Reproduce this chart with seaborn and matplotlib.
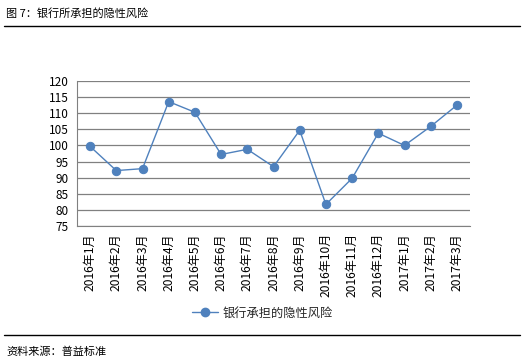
import matplotlib
matplotlib.use("Agg")
import matplotlib.pyplot as plt
import seaborn as sns
import pandas as pd
from matplotlib.lines import Line2D

months = ["2016年1月", "2016年2月", "2016年3月", "2016年4月", "2016年5月", "2016年6月",
          "2016年7月", "2016年8月", "2016年9月", "2016年10月", "2016年11月", "2016年12月",
          "2017年1月", "2017年2月", "2017年3月"]
risk = [99.7, 92.2, 92.8, 113.6, 110.3, 97.2, 98.8, 93.4, 104.7, 81.7, 89.8, 103.8, 100.0, 105.9, 112.5]
y_ticks = [75, 80, 85, 90, 95, 100, 105, 110, 115, 120]
series_name = "银行承担的隐性风险"
title = "图 7：银行所承担的隐性风险"
source = "资料来源：普益标准"

sns.set_theme(style="white")
plt.rcParams['font.family'] = ['Noto Sans CJK SC', 'DejaVu Sans']

W, H = 525, 364
fig = plt.figure(figsize=(W / 100, H / 100), dpi=100)
fig.patch.set_facecolor("white")

def px(x0, y0, x1, y1):
    return [x0 / W, 1 - y1 / H, (x1 - x0) / W, (y1 - y0) / H]

ax = fig.add_axes(px(77, 81, 470, 226))
df = pd.DataFrame({"x": range(len(months)), "v": risk})
color = "#4F81BD"
sns.lineplot(data=df, x="x", y="v", ax=ax, color=color, linewidth=1.0,
             marker="o", markersize=6, markeredgecolor=color, legend=False)

ax.set_xlim(-0.5, len(months) - 0.5)
ax.set_ylim(75, 120)
ax.set_yticks(y_ticks)
ax.set_yticklabels([str(t) for t in y_ticks], fontsize=8.5, color="black")
ax.set_xticks(range(len(months)))
ax.set_xticklabels(months, rotation=90, fontsize=8.7, color="black")
ax.set_xticks([i - 0.5 for i in range(len(months) + 1)], minor=True)
ax.tick_params(axis="x", which="major", length=0, pad=5)
ax.tick_params(axis="x", which="minor", length=4, color="#808080", width=0.8, direction="out")
ax.tick_params(axis="y", which="major", length=4, color="#808080", width=0.8, direction="out", pad=2)
ax.set_xlabel("")
ax.set_ylabel("")
ax.grid(axis="y", color="#808080", linewidth=0.9)
ax.set_axisbelow(True)
for s in ["top", "right"]:
    ax.spines[s].set_visible(False)
ax.spines["left"].set_color("#808080")
ax.spines["bottom"].set_color("#808080")
ax.spines["left"].set_linewidth(0.8)
ax.spines["bottom"].set_linewidth(0.8)

handle = Line2D([], [], color=color, linewidth=1.0, marker="o", markersize=6)
fig.legend([handle], [series_name], loc="center", bbox_to_anchor=(262 / W, 1 - 313 / H),
           frameon=False, fontsize=8.8, handlelength=2.2, handletextpad=0.3)

fig.text(6 / W, 1 - 13 / H, title, fontsize=8, va="center", ha="left", color="black")
fig.add_artist(Line2D([4 / W, 520 / W], [1 - 26 / H, 1 - 26 / H], color="black", linewidth=1.0))
fig.add_artist(Line2D([4 / W, 520 / W], [1 - 335 / H, 1 - 335 / H], color="black", linewidth=1.0))
fig.text(6 / W, 1 - 352 / H, source, fontsize=8, va="center", ha="left", color="black")

fig.savefig("out.png", dpi=100, facecolor="white")
